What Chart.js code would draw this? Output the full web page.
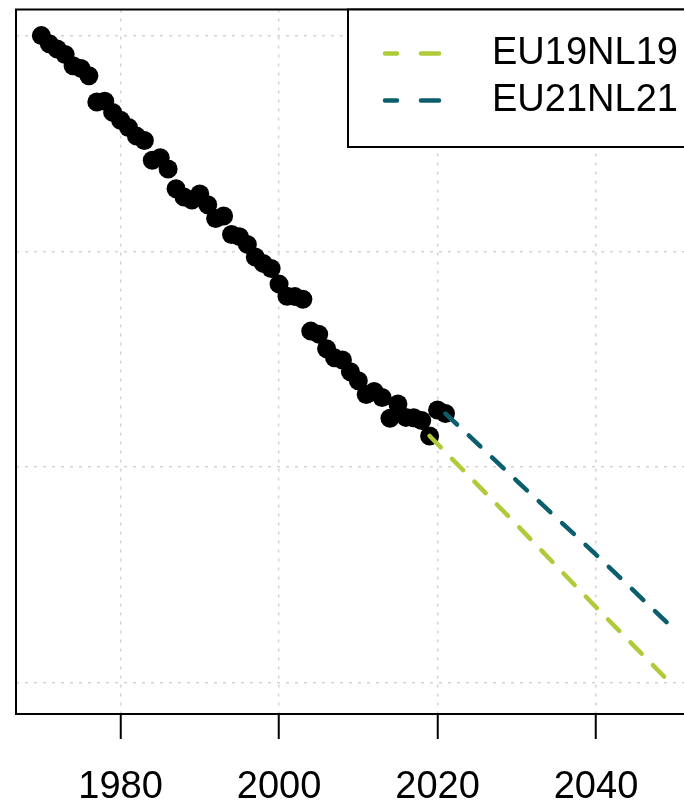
<!DOCTYPE html>
<html><head><meta charset="utf-8">
<script src="https://cdn.jsdelivr.net/npm/chart.js@4"></script>
<style>html,body{margin:0;padding:0;background:#fff;overflow:hidden;} #wrap{width:720px;height:805px;}</style>
</head><body><div id="wrap"><canvas id="c" width="720" height="805"></canvas></div>
<script>
// Observed series (years and values)
const years = [1970,1971,1972,1973,1974,1975,1976,1977,1978,1979,1980,1981,1982,1983,1984,1985,1986,1987,1988,1989,1990,1991,1992,1993,1994,1995,1996,1997,1998,1999,2000,2001,2002,2003,2004,2005,2006,2007,2008,2009,2010,2011,2012,2013,2014,2015,2016,2017,2018,2019,2020,2021];
const observed = [-4.000,-4.019,-4.031,-4.044,-4.070,-4.076,-4.093,-4.154,-4.152,-4.178,-4.196,-4.213,-4.233,-4.243,-4.289,-4.283,-4.309,-4.355,-4.374,-4.381,-4.367,-4.392,-4.424,-4.418,-4.461,-4.466,-4.484,-4.513,-4.528,-4.540,-4.576,-4.604,-4.605,-4.611,-4.685,-4.692,-4.726,-4.747,-4.752,-4.779,-4.800,-4.832,-4.825,-4.839,-4.887,-4.854,-4.885,-4.886,-4.892,-4.928,-4.868,-4.876];
// Projections
const eu19Years = [2019, 2030, 2040, 2050];
const eu19Values = [-4.928, -5.134, -5.325, -5.512];
const eu21Years = [2021, 2030, 2040, 2050];
const eu21Values = [-4.876, -5.032, -5.203, -5.379];
const seriesLabels = ['EU19NL19', 'EU21NL21'];
// Tick / grid values
const xTicks = [1980, 2000, 2020, 2040];
const yGrid = [-5.5, -5.0, -4.5, -4.0];

const FONT = "'Liberation Sans', Arial, sans-serif";
const GREEN = '#AFCB3A';
const TEAL = '#0B5E6E';

const framePlugin = {
  id: 'frame',
  afterDraw(chart) {
    const {ctx, chartArea: a} = chart;
    ctx.save();
    ctx.strokeStyle = '#000';
    ctx.lineWidth = 2;
    ctx.setLineDash([]);
    ctx.strokeRect(a.left, a.top, a.right - a.left, a.bottom - a.top);
    ctx.restore();
  }
};

const legendPlugin = {
  id: 'rlegend',
  afterDraw(chart) {
    const {ctx, chartArea: a} = chart;
    const left = 348, top = a.top, bottom = 147, right = a.right;
    ctx.save();
    ctx.fillStyle = '#fff';
    ctx.fillRect(left, top, right - left, bottom - top);
    ctx.strokeStyle = '#000';
    ctx.lineWidth = 2;
    ctx.setLineDash([]);
    ctx.strokeRect(left, top, right - left, bottom - top);
    const rows = [53.5, 100.5];
    chart.data.datasets.slice(0, 2).forEach((ds, i) => {
      const y = rows[i];
      ctx.strokeStyle = ds.borderColor;
      ctx.lineWidth = 4.5;
      ctx.lineCap = 'round';
      ctx.beginPath();
      ctx.moveTo(385, y); ctx.lineTo(397, y);
      ctx.moveTo(421, y); ctx.lineTo(439, y);
      ctx.stroke();
      ctx.fillStyle = '#000';
      ctx.font = '38px ' + FONT;
      ctx.textBaseline = 'middle';
      ctx.textAlign = 'left';
      ctx.fillText(ds.label, 492, y);
    });
    ctx.restore();
  }
};

new Chart(document.getElementById('c').getContext('2d'), {
  type: 'scatter',
  data: {
    datasets: [
      {label: seriesLabels[0], data: eu19Years.map((x, i) => ({x, y: eu19Values[i]})), showLine: true,
       borderColor: GREEN, borderWidth: 4.5, borderDash: [16, 16], borderCapStyle: 'round', pointRadius: 0, order: 1, fill: false},
      {label: seriesLabels[1], data: eu21Years.map((x, i) => ({x, y: eu21Values[i]})), showLine: true,
       borderColor: TEAL, borderWidth: 4.5, borderDash: [16, 16], borderCapStyle: 'round', pointRadius: 0, order: 1, fill: false},
      {label: 'observed', data: years.map((x, i) => ({x, y: observed[i]})), showLine: false,
       backgroundColor: '#000', borderColor: '#000', borderWidth: 0, pointRadius: 9.5, order: 2}
    ]
  },
  options: {
    responsive: false, devicePixelRatio: 1, animation: false,
    layout: {padding: {left: 16, top: 6, right: 19.4, bottom: 0}},
    plugins: {legend: {display: false}, tooltip: {enabled: false}},
    scales: {
      x: {
        type: 'linear', min: 1966.8, max: 2053.2,
        afterBuildTicks: s => { s.ticks = xTicks.map(v => ({value: v})); },
        afterFit: s => { s.height = 91; },
        ticks: {font: {family: FONT, size: 38}, color: '#000', padding: 26, maxRotation: 0, autoSkip: false, callback: v => String(v)},
        grid: {color: '#d3d3d3', lineWidth: 1.5, tickColor: '#000', tickWidth: 2, tickLength: 25, tickBorderDash: []},
        border: {display: false, dash: [3, 6]}
      },
      y: {
        type: 'linear', min: -5.5725, max: -3.9395,
        afterBuildTicks: s => { s.ticks = yGrid.map(v => ({value: v})); },
        afterFit: s => { s.width = 0; },
        ticks: {display: false},
        grid: {color: '#d3d3d3', lineWidth: 1.5, drawTicks: false},
        border: {display: false, dash: [3, 6]}
      }
    }
  },
  plugins: [framePlugin, legendPlugin]
});
</script>
</body></html>
